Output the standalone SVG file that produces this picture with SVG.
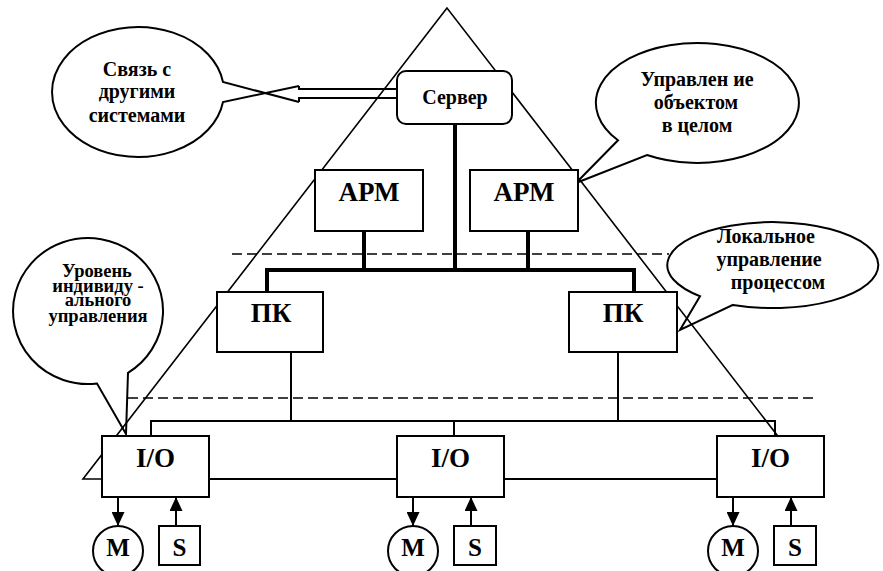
<svg xmlns="http://www.w3.org/2000/svg" width="883" height="571" viewBox="0 0 883 571" font-family="'Liberation Serif', 'Times New Roman', serif">
<defs>
<style>
text{font-family:'Liberation Serif','Times New Roman',serif;font-weight:bold;fill:#000;text-anchor:middle}
.box{fill:#fff;stroke:#000;stroke-width:2}
.call{fill:#fff;stroke:#000;stroke-width:2}
.thin{fill:none;stroke:#000;stroke-width:2}
.thick{fill:none;stroke:#000;stroke-width:4}
.dash{fill:none;stroke:#000;stroke-width:1.5;stroke-dasharray:10 5}
.t27{font-size:27px}
.t25{font-size:25px}
.t20{font-size:20px}
.t18{font-size:18.5px}
</style>
<marker id="ah" viewBox="0 0 14 13" refX="14" refY="6.5" markerWidth="14" markerHeight="13" markerUnits="userSpaceOnUse" orient="auto">
<path d="M0,0 L14,6.5 L0,13 Z" fill="#000"/>
</marker>
</defs>
<rect width="883" height="571" fill="#fff"/>

<g id="callouts">
<g id="callout-svyaz">
<path class="thin" d="M299,102 L223,82 A86,65 0 1 0 223,102 L299,86"/>
<text class="t20" x="137" y="76">Связь с</text>
<text class="t20" x="137" y="98">другими</text>
<text class="t20" x="137" y="122">системами</text>
</g>
<g id="callout-upravlenie">
<path class="call" d="M618,140.3 A101.5,60 0 1 1 647,155 L576,183 Z"/>
<text class="t20" x="697" y="86">Управлен ие</text>
<text class="t20" x="696" y="109">объектом</text>
<text class="t20" x="697" y="132">в целом</text>
</g>
<g id="callout-lokalnoe">
<path class="call" d="M700,296.2 A105.5,43 0 1 1 733,304.9 L680,330 Z"/>
<text class="t20" x="766" y="243">Локальное</text>
<text class="t20" x="769" y="266">управление</text>
<text class="t20" x="778" y="289">процессом</text>
</g>
<g id="callout-uroven">
<path class="call" d="M128,372.8 A75,73 0 1 0 97,383.5 L126,434 Z"/>
<text class="t18" x="97" y="277">Уровень</text>
<text class="t18" x="98" y="292">индивиду -</text>
<text class="t18" x="98" y="306">ального</text>
<text class="t18" x="98" y="322">управления</text>
</g>
</g>

<polygon id="pyramid" points="447,8 83,479 811,479" fill="none" stroke="#000" stroke-width="1.6"/>

<line class="dash" x1="232" y1="254" x2="669" y2="254"/>
<line class="dash" x1="128" y1="398" x2="817" y2="398"/>

<g id="connectors">
<path class="thin" d="M299,86 V89 H397 M299,102 V98 H397"/>
<path class="thick" d="M455,124 V270 M364,231 V270 M528,231 V270 M267,292 V270 H634 V292"/>
<path class="thin" d="M291,352 V421 M618,352 V421 M151,436 V421 H775 V436 M454,421 V436"/>
<path class="thin" d="M209,479 H397 M504,479 H717"/>
<g stroke="#000" stroke-width="2" marker-end="url(#ah)">
<line x1="118" y1="497" x2="118" y2="526"/>
<line x1="176" y1="526" x2="176" y2="497"/>
<line x1="413" y1="497" x2="413" y2="526"/>
<line x1="471" y1="526" x2="471" y2="497"/>
<line x1="733" y1="497" x2="733" y2="526"/>
<line x1="791" y1="526" x2="791" y2="497"/>
</g>
</g>

<g id="server"><rect class="box" x="397" y="71" width="115" height="53" rx="9"/><text class="t20" x="455" y="104">Сервер</text></g>
<g id="arm1"><rect class="box" x="315" y="170" width="108" height="61"/><text class="t27" x="369" y="201">АРМ</text></g>
<g id="arm2"><rect class="box" x="470" y="170" width="108" height="61"/><text class="t27" x="524" y="201">АРМ</text></g>
<g id="pk1"><rect class="box" x="217" y="292" width="106" height="60"/><text class="t27" x="271" y="322">ПК</text></g>
<g id="pk2"><rect class="box" x="569" y="292" width="108" height="60"/><text class="t27" x="623" y="322">ПК</text></g>
<g id="io1"><rect class="box" x="102" y="436" width="107" height="61"/><text class="t27" x="155.5" y="467">I/O</text></g>
<g id="io2"><rect class="box" x="397" y="436" width="107" height="61"/><text class="t27" x="450.5" y="467">I/O</text></g>
<g id="io3"><rect class="box" x="717" y="436" width="107" height="61"/><text class="t27" x="770.5" y="467">I/O</text></g>
<g id="m1"><circle class="box" cx="118" cy="551" r="25"/><text class="t25" x="118" y="556">M</text></g>
<g id="s1"><rect class="box" x="159" y="526" width="41" height="39"/><text class="t25" x="179.5" y="556">S</text></g>
<g id="m2"><circle class="box" cx="413" cy="551" r="25"/><text class="t25" x="413" y="556">M</text></g>
<g id="s2"><rect class="box" x="454" y="526" width="42" height="39"/><text class="t25" x="475" y="556">S</text></g>
<g id="m3"><circle class="box" cx="733" cy="551" r="25"/><text class="t25" x="733" y="556">M</text></g>
<g id="s3"><rect class="box" x="774" y="526" width="42" height="39"/><text class="t25" x="795" y="556">S</text></g>
</svg>
